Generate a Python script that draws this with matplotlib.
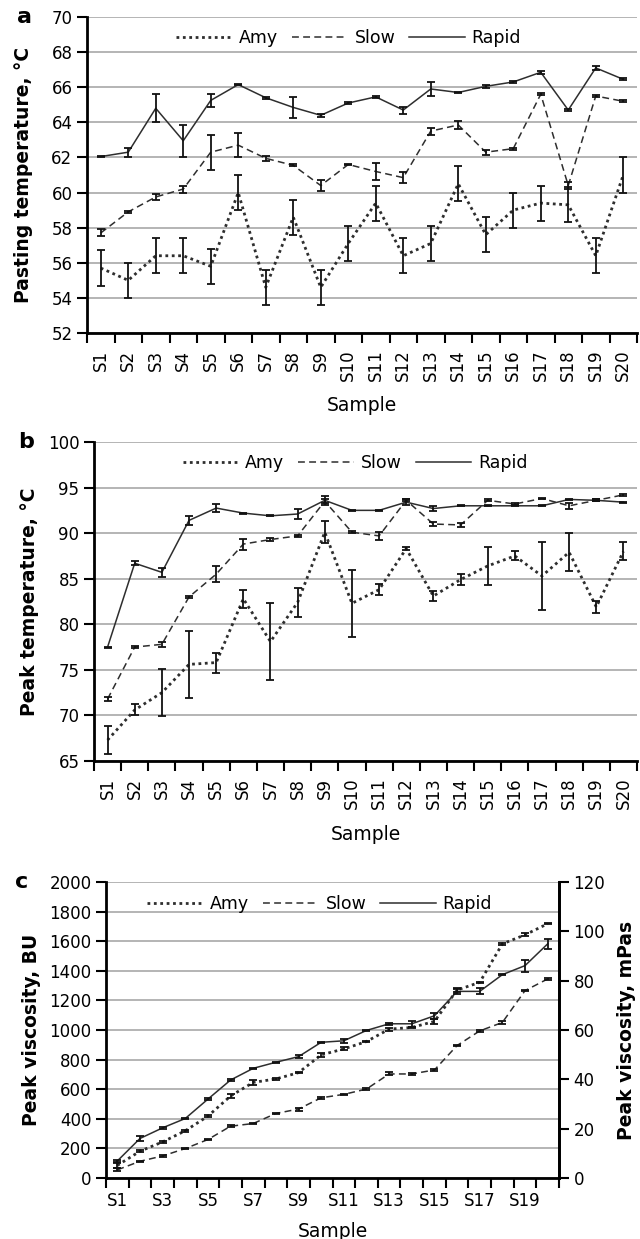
import matplotlib
matplotlib.use("Agg")
import matplotlib.pyplot as plt
import numpy as np
from matplotlib.ticker import FixedLocator, NullFormatter, FixedFormatter
from matplotlib.lines import Line2D

samples = [f"S{i}" for i in range(1, 21)]

# Panel a: pasting temperature (°C)
a_amy = [55.7, 55.0, 56.4, 56.4, 55.8, 60.0, 54.6, 58.6, 54.6, 57.1,
         59.4, 56.4, 57.1, 60.5, 57.6, 59.0, 59.4, 59.3, 56.4, 61.0]
a_amy_err = [1.0, 1.0, 1.0, 1.0, 1.0, 1.0, 1.0, 1.0, 1.0, 1.0,
             1.0, 1.0, 1.0, 1.0, 1.0, 1.0, 1.0, 1.0, 1.0, 1.0]
a_slow = [57.7, 58.9, 59.75, 60.2, 62.3, 62.7, 61.95, 61.55, 60.4, 61.6,
          61.2, 60.85, 63.5, 63.85, 62.3, 62.5, 65.6, 60.4, 65.5, 65.2]
a_slow_err = [0.2, 0.05, 0.15, 0.2, 1.0, 0.7, 0.15, 0.05, 0.3, 0.05,
              0.5, 0.3, 0.2, 0.25, 0.15, 0.05, 0.05, 0.2, 0.05, 0.05]
a_rapid = [62.05, 62.3, 64.8, 62.95, 65.25, 66.15, 65.4, 64.85, 64.4, 65.1,
           65.45, 64.7, 65.9, 65.7, 66.05, 66.3, 66.85, 64.7, 67.1, 66.45]
a_rapid_err = [0.05, 0.25, 0.8, 0.9, 0.35, 0.05, 0.05, 0.6, 0.1, 0.05,
               0.05, 0.2, 0.4, 0.05, 0.1, 0.05, 0.1, 0.05, 0.1, 0.05]

# Panel b: peak temperature (°C)
b_amy = [67.3, 70.6, 72.5, 75.6, 75.8, 82.8, 78.1, 82.4, 90.1, 82.3,
         83.8, 88.3, 83.1, 84.9, 86.4, 87.5, 85.3, 87.9, 81.9, 88.0]
b_amy_err = [1.5, 0.6, 2.6, 3.7, 1.1, 1.0, 4.2, 1.6, 1.2, 3.7,
             0.6, 0.2, 0.5, 0.6, 2.1, 0.5, 3.7, 2.1, 0.7, 1.0]
b_slow = [71.8, 77.5, 77.8, 83.0, 85.5, 88.8, 89.3, 89.7, 93.5, 90.1,
          89.7, 93.6, 91.0, 90.9, 93.6, 93.2, 93.8, 93.0, 93.6, 94.2]
b_slow_err = [0.2, 0.1, 0.3, 0.1, 0.9, 0.6, 0.2, 0.1, 0.2, 0.1,
              0.4, 0.1, 0.2, 0.2, 0.1, 0.1, 0.1, 0.3, 0.1, 0.1]
b_rapid = [77.5, 86.7, 85.7, 91.4, 92.75, 92.2, 91.9, 92.1, 93.6, 92.5,
           92.5, 93.4, 92.7, 93.0, 93.0, 93.0, 93.0, 93.7, 93.6, 93.4]
b_rapid_err = [0.05, 0.2, 0.5, 0.5, 0.4, 0.05, 0.05, 0.6, 0.5, 0.05,
               0.05, 0.3, 0.3, 0.05, 0.05, 0.05, 0.05, 0.05, 0.1, 0.05]

# Panel c: peak viscosity (BU)
c_amy = [85, 181, 244, 319, 418, 554, 646, 669, 712, 832,
         872, 922, 1006, 1017, 1058, 1270, 1322, 1582, 1643, 1718]
c_amy_err = [15, 5, 5, 5, 5, 15, 15, 5, 5, 15,
             10, 5, 10, 5, 15, 10, 5, 5, 10, 5]
c_slow = [55, 113, 149, 199, 260, 350, 368, 436, 466, 542,
          565, 601, 703, 703, 730, 895, 994, 1051, 1266, 1345]
c_slow_err = [10, 5, 5, 5, 5, 5, 5, 5, 10, 5,
              5, 5, 10, 5, 5, 5, 5, 10, 5, 5]
c_rapid = [115, 267, 339, 402, 533, 662, 741, 782, 820, 917,
           927, 997, 1042, 1042, 1096, 1261, 1261, 1374, 1435, 1582]
c_rapid_err = [10, 15, 5, 5, 5, 5, 5, 5, 10, 5,
               15, 5, 5, 20, 20, 20, 20, 5, 40, 35]

series_names = ["Amy", "Slow", "Rapid"]
linestyles = [(0, (1, 1.3)), (0, (4.5, 2.8)), "-"]
linewidths = [2.0, 1.1, 1.1]
LC = "#2e2e2e"
GRID = "#a8a8a8"

plt.rcParams["font.family"] = ["DejaVu Sans"]

fig = plt.figure(figsize=(6.40, 12.39), dpi=100)
W, H = 640, 1239

def rect(l, t, r, b):
    return [l / W, 1 - b / H, (r - l) / W, (b - t) / H]

x = np.arange(20)

def draw(ax, data, errs, ylim, yticks, ylabel, letter, legx, rot_labels=True, every=1):
    ax.set_xlim(-0.5, 19.5)
    ax.set_ylim(*ylim)
    ax.set_yticks(yticks)
    for yv in yticks:
        ax.axhline(yv, color=GRID, lw=1.2, zorder=0)
    for d, e, ls, lw in zip(data, errs, linestyles, linewidths):
        ax.plot(x, d, color=LC, ls=ls, lw=lw, zorder=3)
        ax.errorbar(x, d, yerr=e, fmt="none", ecolor="#111111", elinewidth=1.3,
                    capsize=3.2, capthick=1.3, zorder=4)
    ax.xaxis.set_major_locator(FixedLocator(np.arange(-0.5, 20, 1)))
    ax.xaxis.set_major_formatter(NullFormatter())
    ax.xaxis.set_minor_locator(FixedLocator(x))
    labels = [s if i % every == 0 else "" for i, s in enumerate(samples)]
    ax.xaxis.set_minor_formatter(FixedFormatter(labels))
    ax.tick_params(axis="x", which="major", length=7, width=1.5, direction="out")
    ax.tick_params(axis="x", which="minor", length=0, labelsize=12,
                   rotation=90 if rot_labels else 0, pad=12 if rot_labels else 10)
    ax.tick_params(axis="y", length=7, width=1.5, direction="out", labelsize=12)
    for s in ["top", "right"]:
        ax.spines[s].set_visible(False)
    for s in ["left", "bottom"]:
        ax.spines[s].set_linewidth(2.0)
    ax.set_xlabel("Sample", fontsize=13.5)
    ax.set_ylabel(ylabel, fontsize=13.5, fontweight="bold")
    handles = [Line2D([], [], color=LC, ls=ls, lw=lw) for ls, lw in zip(linestyles, linewidths)]
    ax.legend(handles, series_names, loc="upper center", ncol=3, frameon=False,
              fontsize=12.5, handlelength=3.2, columnspacing=0.8, handletextpad=0.4,
              bbox_to_anchor=(legx, 1.01))
    ax.text(-0.127, 1.0, letter, transform=ax.transAxes, fontsize=16,
            fontweight="bold", va="center", ha="left")

axa = fig.add_axes(rect(87, 17, 637, 333))
draw(axa, [a_amy, a_slow, a_rapid], [a_amy_err, a_slow_err, a_rapid_err],
     (52, 70), np.arange(52, 71, 2), "Pasting temperature, °C", "a", 0.476)
axa.yaxis.set_label_coords(-0.098, 0.5)
axa.xaxis.set_label_coords(0.5, -0.20)

axb = fig.add_axes(rect(94, 442, 637, 761))
draw(axb, [b_amy, b_slow, b_rapid], [b_amy_err, b_slow_err, b_rapid_err],
     (65, 100), np.arange(65, 101, 5), "Peak temperature, °C", "b", 0.481)
axb.yaxis.set_label_coords(-0.101, 0.5)
axb.xaxis.set_label_coords(0.5, -0.20)
axb.texts[0].set_position((-0.14, 1.0))

axc = fig.add_axes(rect(106, 882, 559, 1178))
draw(axc, [c_amy, c_slow, c_rapid], [c_amy_err, c_slow_err, c_rapid_err],
     (0, 2000), np.arange(0, 2001, 200), "Peak viscosity, BU", "c", 0.472,
     rot_labels=False, every=2)
axc.spines["right"].set_visible(True)
axc.spines["right"].set_linewidth(2.0)
axc.yaxis.set_label_coords(-0.143, 0.5)
axc.xaxis.set_label_coords(0.5, -0.148)
axc.texts[0].set_position((-0.2, 1.0))
axc2 = axc.twinx()
axc2.set_ylim(0, 120)
axc2.set_yticks(np.arange(0, 121, 20))
axc2.tick_params(axis="y", length=7, width=1.5, direction="out", labelsize=12)
for s in ["top", "left", "bottom"]:
    axc2.spines[s].set_visible(False)
axc2.spines["right"].set_linewidth(2.0)
axc2.set_ylabel("Peak viscosity, mPas", fontsize=13.5, fontweight="bold")
axc2.yaxis.set_label_coords(1.128, 0.5)

fig.savefig("out.png", dpi=100)
